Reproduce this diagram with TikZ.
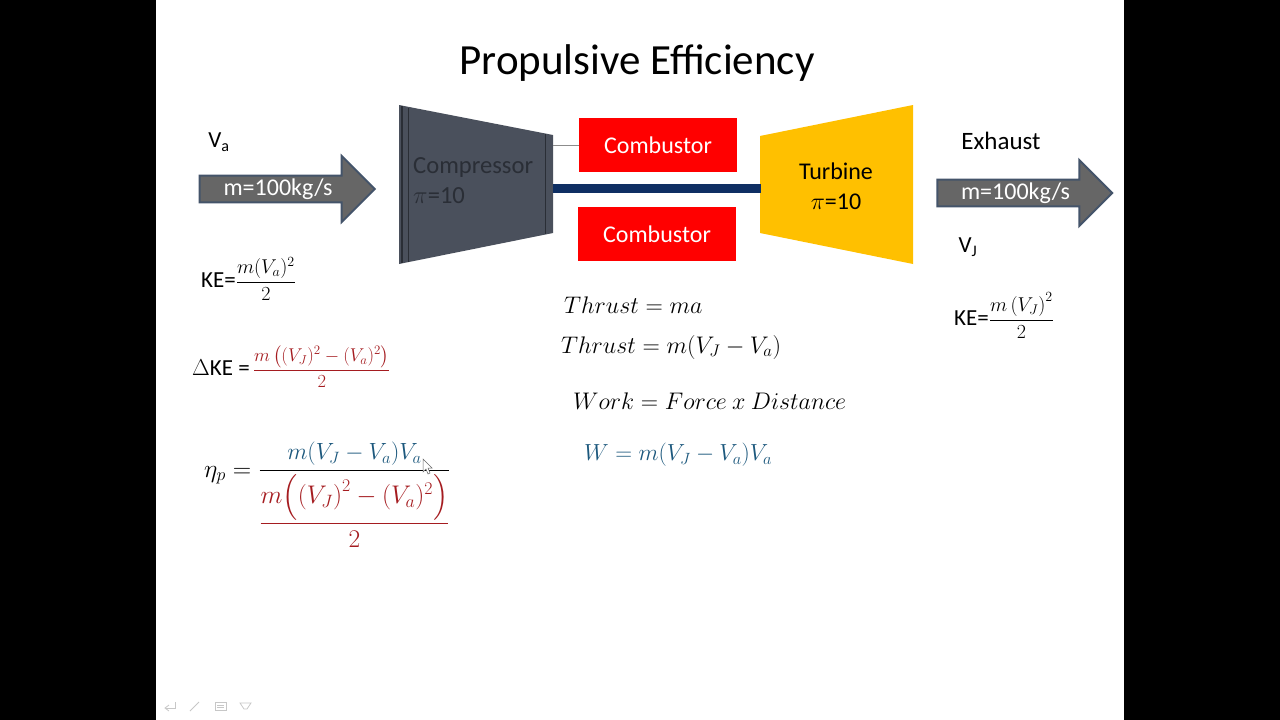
\documentclass[tikz,border=0pt]{standalone}
\usepackage{fix-cm}
\usepackage{amsmath,amssymb}
\usepackage{fontspec}
\setmainfont{Carlito}
\usetikzlibrary{shapes.arrows,positioning}
\definecolor{pizarra}{RGB}{74,80,92}
\definecolor{pizarrad}{RGB}{42,46,54}
\definecolor{ambar}{RGB}{255,192,0}
\definecolor{rojo}{RGB}{255,0,0}
\definecolor{eje}{RGB}{15,47,99}
\definecolor{gris}{RGB}{102,102,102}
\definecolor{borde}{RGB}{68,84,106}
\definecolor{granate}{RGB}{165,28,32}
\definecolor{petroleo}{RGB}{28,88,125}
\newcommand{\fsz}[1]{\fontsize{#1}{#1}\selectfont}
\tikzset{
  burner/.style={fill=rojo, inner sep=0pt, minimum width=158pt, minimum height=54pt, text=white, font=\fsz{24}},
  flow/.style={single arrow, fill=gris, draw=borde, line width=2pt, inner sep=0pt, minimum height=175pt, minimum width=66pt, single arrow head extend=16.5pt, single arrow tip angle=90, text=white, font=\fsz{24}},
  lbl/.style={inner sep=0pt, font=\fsz{23}},
  eqn/.style={inner sep=0pt, anchor=base west, font=\fsz{23}},
  ctl/.style={draw=black!22, line width=0.8pt},
}
\begin{document}
\begin{tikzpicture}[x=1pt,y=-1pt]
  \fill[black] (0,0) rectangle (1280,720);
  \fill[white] (156,0) rectangle (1124,720);
  \useasboundingbox (0,0) rectangle (1280,720);

  \node[inner sep=0pt, font=\fsz{43}] (title) at (637,63) {Propulsive Efficiency};

  \fill[pizarra] (399,105) -- (553,135) -- (553,233) -- (399,264) -- cycle;
  \draw[pizarrad, line width=1.5pt] (402,106) -- (402,263);
  \draw[pizarrad] (408,108) -- (408,262);
  \draw[pizarrad] (545,134) -- (545,234);
  \fill[ambar] (760,136) -- (913,105) -- (913,264) -- (760,233) -- cycle;
  \coordinate (compt) at (553,145);
  \coordinate (compe) at (553,188);
  \coordinate (turbw) at (761,188);

  \node[burner] (cb1) at (658,145) {Combustor};
  \node[burner] (cb2) at (657,234) {Combustor};
  \draw[black!45] (compt) -- (cb1.west);
  \draw[eje, line width=9pt] (compe) -- (turbw);

  \node[lbl, text=pizarrad, align=left, anchor=north west, font=\fsz{24.6}] (comp) at (413,157) {Compressor\\[6pt]$\pi$=10};
  \node[lbl, align=center, font=\fsz{24}] (turb) at (836,186) {Turbine\\[6pt]$\pi$=10};

  \node[flow] (fa) at (280.5,189) {\hspace*{-5pt}m=100kg/s};
  \node[flow] (fj) at (1018,193) {\hspace*{-5pt}m=100kg/s};
  \node[lbl] (va) at (219,142) {V\textsubscript{a}};
  \node[lbl, font=\fsz{25}] (ex) at (1001,141) {Exhaust};
  \node[lbl] (vj) at (968,247) {V\textsubscript{J}};

  \node[eqn] (kea) at (201,287) {KE={\fsz{20}$\dfrac{m(V_a)^2}{2}$}};
  \node[eqn] (kej) at (954,325) {KE={\fsz{20}$\dfrac{m\left(V_J\right)^2}{2}$}};
  \node[eqn] (dke) at (192,375) {$\Delta$KE ={\color{granate}\fsz{18.5}\,$\dfrac{m\left((V_J)^2-(V_a)^2\right)}{2}$}};
  \node[eqn, font=\fsz{25.5}] (eta) at (204,477) {$\eta_p=\dfrac{\textcolor{petroleo}{\scalebox{0.92}{$m(V_J-V_a)V_a$}}}{\textcolor{granate}{\dfrac{m\Bigl(\left(V_J\right)^2-(V_a)^2\Bigr)}{2}}}$};

  \node[eqn, font=\fsz{24}, anchor=west] (th1) at (564,305) {$Thrust=ma$};
  \node[eqn, font=\fsz{24}, anchor=west] (th2) at (561,347) {$Thrust=m(V_J-V_a)$};
  \node[eqn, font=\fsz{24}, anchor=west] (wk1) at (573,401) {$Work=Force\ x\ Distance$};
  \node[eqn, font=\fsz{23.3}, anchor=west, text=petroleo] (wk2) at (584,455) {$W=m(V_J-V_a)V_a$};

  \fill[white, draw=black!60, line width=0.5pt] (423,459) -- (423,472) -- (426,469) -- (428,474) -- (430,473) -- (428,468) -- (432,468) -- cycle;

  \draw[ctl] (175,702) -- (175,708) -- (166,708);
  \draw[ctl] (169,705) -- (165,708) -- (169,711);
  \draw[ctl] (190,711) -- (199,702);
  \draw[ctl] (215,702) rectangle (226,710);
  \draw[ctl] (217,705) -- (224,705) (217,707) -- (224,707);
  \draw[ctl] (240,703) -- (251,703) -- (247,709) -- (244,709) -- cycle;
\end{tikzpicture}
\end{document}
